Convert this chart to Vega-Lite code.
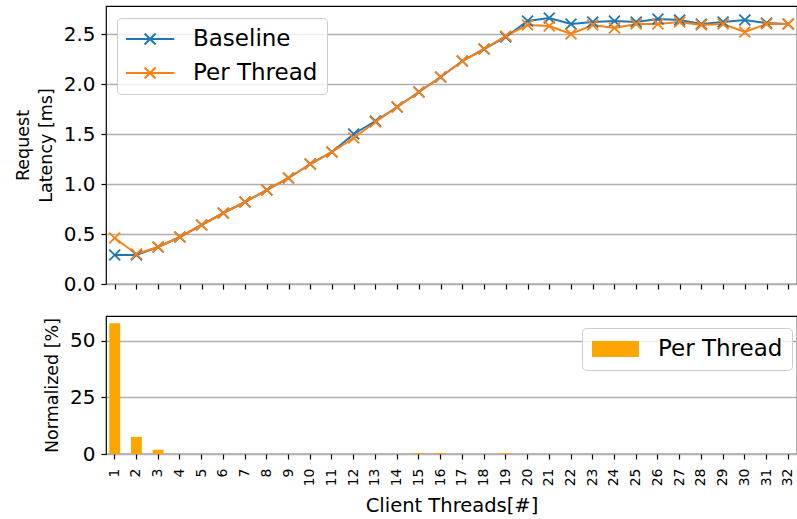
{
  "$schema": "https://vega.github.io/schema/vega-lite/v6.json",
  "padding": {"left": 13, "top": 5, "right": 0, "bottom": 2},
  "config": {
    "font": "DejaVu Sans",
    "view": {"stroke": "black", "strokeWidth": 1.2},
    "axis": {"labelFont": "DejaVu Sans", "titleFont": "DejaVu Sans", "labelColor": "black", "titleColor": "black", "tickColor": "black", "domain": false, "titleFontWeight": "normal", "gridColor": "#b0b0b0", "gridWidth": 1.5, "tickSize": 5, "tickWidth": 1.2},
    "legend": {"labelFont": "DejaVu Sans", "labelColor": "black"}
  },
  "datasets": {
    "latency": [
      {"threads": 1, "series": "Baseline", "latency": 0.29}, {"threads": 2, "series": "Baseline", "latency": 0.29},
      {"threads": 3, "series": "Baseline", "latency": 0.37}, {"threads": 4, "series": "Baseline", "latency": 0.47},
      {"threads": 5, "series": "Baseline", "latency": 0.59}, {"threads": 6, "series": "Baseline", "latency": 0.71},
      {"threads": 7, "series": "Baseline", "latency": 0.82}, {"threads": 8, "series": "Baseline", "latency": 0.94},
      {"threads": 9, "series": "Baseline", "latency": 1.06}, {"threads": 10, "series": "Baseline", "latency": 1.20},
      {"threads": 11, "series": "Baseline", "latency": 1.32}, {"threads": 12, "series": "Baseline", "latency": 1.50},
      {"threads": 13, "series": "Baseline", "latency": 1.63}, {"threads": 14, "series": "Baseline", "latency": 1.77},
      {"threads": 15, "series": "Baseline", "latency": 1.92}, {"threads": 16, "series": "Baseline", "latency": 2.07},
      {"threads": 17, "series": "Baseline", "latency": 2.23}, {"threads": 18, "series": "Baseline", "latency": 2.35},
      {"threads": 19, "series": "Baseline", "latency": 2.47}, {"threads": 20, "series": "Baseline", "latency": 2.63},
      {"threads": 21, "series": "Baseline", "latency": 2.66}, {"threads": 22, "series": "Baseline", "latency": 2.60},
      {"threads": 23, "series": "Baseline", "latency": 2.62}, {"threads": 24, "series": "Baseline", "latency": 2.63},
      {"threads": 25, "series": "Baseline", "latency": 2.62}, {"threads": 26, "series": "Baseline", "latency": 2.65},
      {"threads": 27, "series": "Baseline", "latency": 2.64}, {"threads": 28, "series": "Baseline", "latency": 2.60},
      {"threads": 29, "series": "Baseline", "latency": 2.62}, {"threads": 30, "series": "Baseline", "latency": 2.64},
      {"threads": 31, "series": "Baseline", "latency": 2.61}, {"threads": 32, "series": "Baseline", "latency": 2.60},
      {"threads": 1, "series": "Per Thread", "latency": 0.46}, {"threads": 2, "series": "Per Thread", "latency": 0.30},
      {"threads": 3, "series": "Per Thread", "latency": 0.37}, {"threads": 4, "series": "Per Thread", "latency": 0.47},
      {"threads": 5, "series": "Per Thread", "latency": 0.59}, {"threads": 6, "series": "Per Thread", "latency": 0.71},
      {"threads": 7, "series": "Per Thread", "latency": 0.82}, {"threads": 8, "series": "Per Thread", "latency": 0.94},
      {"threads": 9, "series": "Per Thread", "latency": 1.06}, {"threads": 10, "series": "Per Thread", "latency": 1.20},
      {"threads": 11, "series": "Per Thread", "latency": 1.32}, {"threads": 12, "series": "Per Thread", "latency": 1.46},
      {"threads": 13, "series": "Per Thread", "latency": 1.62}, {"threads": 14, "series": "Per Thread", "latency": 1.77},
      {"threads": 15, "series": "Per Thread", "latency": 1.92}, {"threads": 16, "series": "Per Thread", "latency": 2.07},
      {"threads": 17, "series": "Per Thread", "latency": 2.23}, {"threads": 18, "series": "Per Thread", "latency": 2.35},
      {"threads": 19, "series": "Per Thread", "latency": 2.48}, {"threads": 20, "series": "Per Thread", "latency": 2.59},
      {"threads": 21, "series": "Per Thread", "latency": 2.58}, {"threads": 22, "series": "Per Thread", "latency": 2.50},
      {"threads": 23, "series": "Per Thread", "latency": 2.59}, {"threads": 24, "series": "Per Thread", "latency": 2.56},
      {"threads": 25, "series": "Per Thread", "latency": 2.60}, {"threads": 26, "series": "Per Thread", "latency": 2.60},
      {"threads": 27, "series": "Per Thread", "latency": 2.62}, {"threads": 28, "series": "Per Thread", "latency": 2.59},
      {"threads": 29, "series": "Per Thread", "latency": 2.60}, {"threads": 30, "series": "Per Thread", "latency": 2.52},
      {"threads": 31, "series": "Per Thread", "latency": 2.60}, {"threads": 32, "series": "Per Thread", "latency": 2.60}
    ],
    "norm": [
      {"threads": 1, "pct": 57.8}, {"threads": 2, "pct": 7.6}, {"threads": 3, "pct": 1.9}, {"threads": 4, "pct": 0},
      {"threads": 5, "pct": 0}, {"threads": 6, "pct": 0}, {"threads": 7, "pct": 0}, {"threads": 8, "pct": 0},
      {"threads": 9, "pct": 0}, {"threads": 10, "pct": 0}, {"threads": 11, "pct": 0}, {"threads": 12, "pct": 0},
      {"threads": 13, "pct": 0}, {"threads": 14, "pct": 0}, {"threads": 15, "pct": 0.4}, {"threads": 16, "pct": 0.4},
      {"threads": 17, "pct": 0}, {"threads": 18, "pct": 0}, {"threads": 19, "pct": 0.4}, {"threads": 20, "pct": 0},
      {"threads": 21, "pct": 0}, {"threads": 22, "pct": 0}, {"threads": 23, "pct": 0}, {"threads": 24, "pct": 0},
      {"threads": 25, "pct": 0}, {"threads": 26, "pct": 0}, {"threads": 27, "pct": 0}, {"threads": 28, "pct": 0},
      {"threads": 29, "pct": 0}, {"threads": 30, "pct": 0}, {"threads": 31, "pct": 0}, {"threads": 32, "pct": 0}
    ]
  },
  "vconcat": [
    {
      "width": 691,
      "height": 278,
      "data": {"name": "latency"},
      "encoding": {
        "x": {"field": "threads", "type": "ordinal",
          "scale": {"type": "point", "padding": 0.4, "domain": [1,2,3,4,5,6,7,8,9,10,11,12,13,14,15,16,17,18,19,20,21,22,23,24,25,26,27,28,29,30,31,32]},
          "axis": {"labels": false, "title": null, "grid": false, "ticks": true}},
        "y": {"field": "latency", "type": "quantitative",
          "scale": {"domain": [0, 2.78], "nice": false},
          "axis": {"values": [0, 0.5, 1, 1.5, 2, 2.5], "format": ".1f", "title": ["Request", "Latency [ms]"], "labelFontSize": 20, "labelPadding": 6, "titleFontSize": 17.5, "titleLineHeight": 23, "grid": true, "titlePadding": 8}},
        "color": {"field": "series", "type": "nominal",
          "scale": {"domain": ["Baseline", "Per Thread"], "range": ["#1f77b4", "#ff7f0e"]},
          "legend": {"orient": "none", "legendX": 11, "legendY": 12, "title": null,
            "symbolType": "M-1.1,0H3.3M0.6,-0.5L1.6,0.5M0.6,0.5L1.6,-0.5", "symbolSize": 484, "symbolStrokeWidth": 2,
            "labelFontSize": 23, "labelOffset": 43, "padding": 9, "rowPadding": 10,
            "fillColor": "rgba(255,255,255,0.8)", "strokeColor": "#cccccc", "cornerRadius": 4}}
      },
      "layer": [
        {"mark": {"type": "line", "strokeWidth": 2}},
        {"mark": {"type": "point", "shape": "M-1,-1L1,1M-1,1L1,-1", "filled": false, "size": 120, "strokeWidth": 1.8, "opacity": 1}}
      ]
    },
    {
      "width": 691,
      "height": 138,
      "data": {"name": "norm"},
      "mark": {"type": "bar"},
      "encoding": {
        "x": {"field": "threads", "type": "ordinal",
          "scale": {"type": "band", "paddingInner": 0.5, "paddingOuter": 0.15, "domain": [1,2,3,4,5,6,7,8,9,10,11,12,13,14,15,16,17,18,19,20,21,22,23,24,25,26,27,28,29,30,31,32]},
          "axis": {"labelAngle": -90, "labelAlign": "right", "labelBaseline": "middle", "title": "Client Threads[#]", "labelFontSize": 14, "titleFontSize": 19.5, "grid": false, "labelPadding": 9, "titlePadding": 11}},
        "y": {"field": "pct", "type": "quantitative",
          "scale": {"domain": [0, 61], "nice": false},
          "axis": {"values": [0, 25, 50], "title": "Normalized [%]", "labelFontSize": 20, "labelPadding": 6, "titleFontSize": 17.5, "grid": true, "titlePadding": 8}},
        "color": {"datum": "Per Thread",
          "scale": {"domain": ["Per Thread"], "range": ["orange"]},
          "legend": {"orient": "none", "legendX": 476, "legendY": 12, "title": null,
            "symbolType": "M-1,-0.73H3.27V0.73H-1Z", "symbolSize": 484,
            "labelFontSize": 23, "labelOffset": 43, "padding": 9,
            "fillColor": "rgba(255,255,255,0.8)", "strokeColor": "#cccccc", "cornerRadius": 4}}
      }
    }
  ],
  "spacing": 32,
  "bounds": "flush",
  "resolve": {"scale": {"color": "independent", "x": "independent"}, "legend": {"color": "independent"}}
}
